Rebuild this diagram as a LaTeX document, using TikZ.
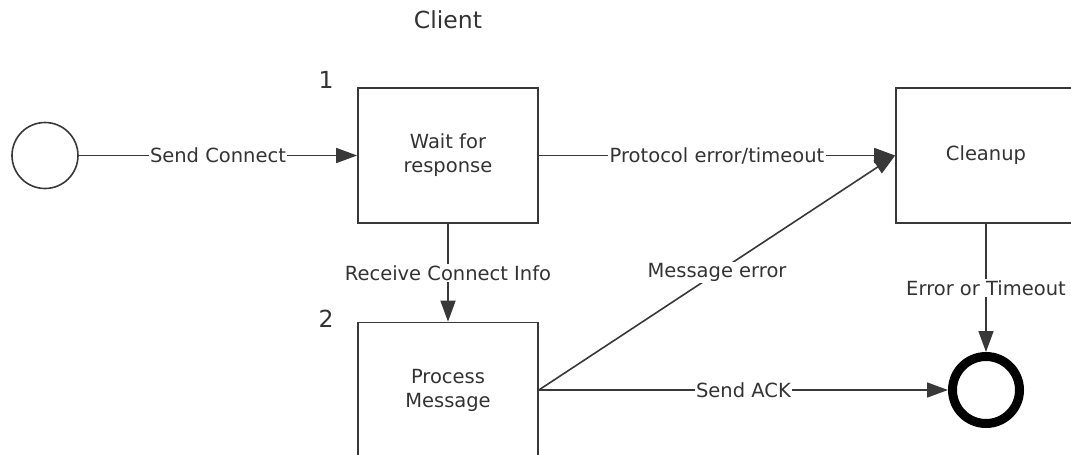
\documentclass[tikz,border=0pt]{standalone}
\usepackage{fontspec}
\setmainfont{DejaVu Sans}
\usetikzlibrary{arrows.meta}
\begin{document}
\begin{tikzpicture}[x=1pt,y=-1pt,
  every node/.style={font=\fontsize{19.5}{24}\selectfont, text=black!80},
  big/.style={font=\fontsize{23.5}{28}\selectfont},
  state/.style={draw=black!78, line width=1.7pt, minimum width=180pt, minimum height=135pt, align=center, inner sep=0pt},
  conn/.style={draw=black!78, line width=1.6pt, -{Triangle[length=21pt,width=15pt]}},
  lbl/.style={fill=white, inner sep=1.5pt}]
\useasboundingbox (0,0) rectangle (1071,455);
\clip (0,0) rectangle (1071,455);
\node[state] (wait) at (448,155.5) {Wait for\\response};
\node[state] (proc) at (448,390) {Process\\Message};
\node[state] (clean) at (986,155.5) {Cleanup};
\node[circle, draw=black!78, line width=1.6pt, minimum size=66pt, inner sep=0pt] (start) at (45,155.5) {};
\node[circle, draw=black, line width=9pt, minimum size=67pt, inner sep=0pt] (end) at (986,390) {};
\node[big] (title) at (448,20) {Client};
\node[big] (n1) at (326,80) {1};
\node[big] (n2) at (326,318.5) {2};
\path[conn] (start) -- node[lbl]{Send Connect} (wait);
\path[conn] (wait) -- node[lbl]{Protocol error/timeout} (clean);
\path[conn] (wait) -- node[lbl]{Receive Connect Info} (proc);
\path[conn] (proc.east) -- node[lbl]{Message error} (clean.west);
\path[conn] (proc) -- node[lbl]{Send ACK} (end);
\path[conn] (clean) -- node[lbl]{Error or Timeout} (end);
\end{tikzpicture}
\end{document}
